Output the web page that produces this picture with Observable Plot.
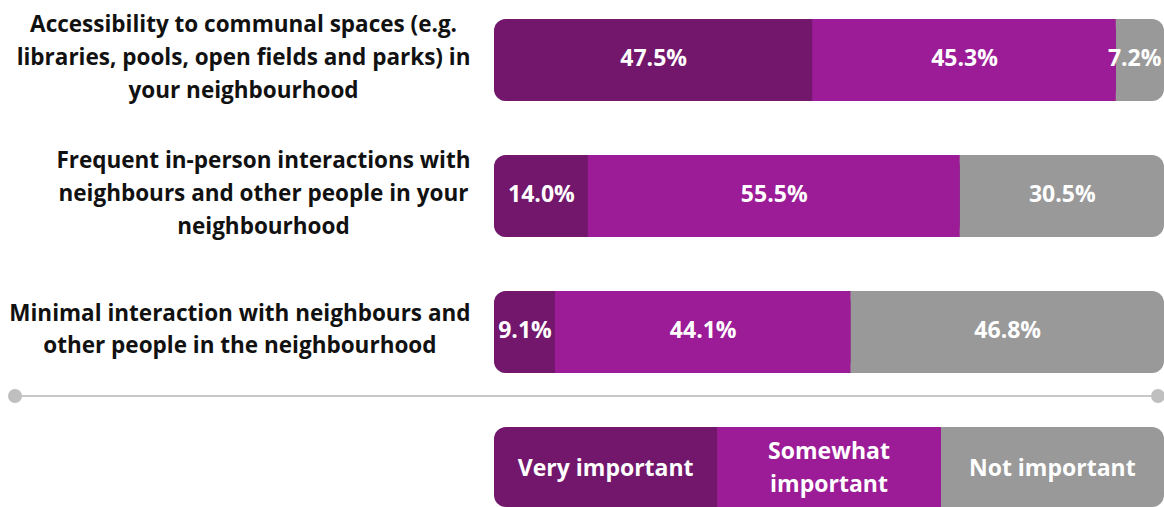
<!DOCTYPE html>
<html>
<head>
<meta charset="utf-8">
<script src="https://cdn.jsdelivr.net/npm/d3@7"></script>
<script src="https://cdn.jsdelivr.net/npm/@observablehq/plot@0.6"></script>
<style>
  html, body { margin: 0; padding: 0; background: #fff; }
  body { width: 1164px; font-family: "Open Sans", Lato, sans-serif; }
  #legend { position: relative; margin-left: 494px; width: 670px; height: 80px; display: flex; border-radius: 12px; overflow: hidden; }
  #legend div { flex: 1; display: flex; align-items: center; justify-content: center; text-align: center; color: #fff; font-weight: bold; font-size: 23px; line-height: 33px; }
</style>
</head>
<body>
<div id="chart"></div>
<div id="sep"></div>
<div id="legend"></div>
<script>
const categories = ["communal", "frequent", "minimal"];
const categoryLabels = [
  "Accessibility to communal spaces (e.g.\nlibraries, pools, open fields and parks) in\nyour neighbourhood",
  "Frequent in-person interactions with\nneighbours and other people in your\nneighbourhood",
  "Minimal interaction with neighbours and\nother people in the neighbourhood"
];
const veryImportant = [47.5, 14.0, 9.1];
const somewhatImportant = [45.3, 55.5, 44.1];
const notImportant = [7.2, 30.5, 46.8];
const seriesNames = ["Very important", "Somewhat\nimportant", "Not important"];
const seriesColors = ["#72176C", "#9C1C97", "#999999"];

const FONT = "'Open Sans', Lato, sans-serif";
const W = 1164, ML = 494, LABEL_GAP = 24, LABEL_SIZE = 22.5, VALUE_SIZE = 23;

// measure text so label lines are centred within a right-aligned block, and values stay inside the bar
const ctx = document.createElement("canvas").getContext("2d");
const measure = (s, size) => { ctx.font = `bold ${size}px "Open Sans"`; return ctx.measureText(s).width; };
const blockWidth = s => Math.max(...s.split("\n").map(l => measure(l, LABEL_SIZE)));
const pxToX = px => px / (W - ML) * 100;
const fmt = d => d.toFixed(1) + "%";

const rows = categories.map((c, i) => {
  const v = veryImportant[i], s = somewhatImportant[i], n = notImportant[i];
  return {
    cat: c,
    label: categoryLabels[i],
    labelX: -pxToX(LABEL_GAP + blockWidth(categoryLabels[i]) / 2),
    v, s, n,
    nX: Math.min(v + s + n / 2, 100 - pxToX(measure(fmt(n), VALUE_SIZE) / 2 + 3))
  };
});

const chart = Plot.plot({
  width: W,
  height: 385,
  marginLeft: ML,
  marginRight: 0,
  marginTop: 18,
  marginBottom: 12,
  style: { fontFamily: FONT, background: "#fff" },
  x: { domain: [0, 100], axis: null },
  y: { domain: categories, paddingInner: 0.4, paddingOuter: 0, axis: null },
  marks: [
    Plot.barX(rows, { y: "cat", x1: 0, x2: 100, fill: seriesColors[2], rx: 12 }),
    Plot.barX(rows, { y: "cat", x1: 0, x2: d => d.v + d.s, fill: seriesColors[0], rx: 12 }),
    Plot.barX(rows, { y: "cat", x1: "v", x2: d => d.v + d.s, fill: seriesColors[1] }),
    Plot.text(rows, { y: "cat", x: d => d.v / 2, dy: -2, text: d => fmt(d.v), fill: "#fff", fontSize: VALUE_SIZE, fontWeight: "bold" }),
    Plot.text(rows, { y: "cat", x: d => d.v + d.s / 2, dy: -2, text: d => fmt(d.s), fill: "#fff", fontSize: VALUE_SIZE, fontWeight: "bold" }),
    Plot.text(rows, { y: "cat", x: "nX", dy: -2, text: d => fmt(d.n), fill: "#fff", fontSize: VALUE_SIZE, fontWeight: "bold" }),
    Plot.text(rows, { y: "cat", x: "labelX", dy: -6, text: "label", textAnchor: "middle", lineHeight: 1.45, fill: "#111", fontSize: LABEL_SIZE, fontWeight: "bold" })
  ]
});
document.getElementById("chart").appendChild(chart);

// separator line with end dots
const sep = d3.select("#sep").append("svg").attr("width", W).attr("height", 42).style("display", "block");
sep.append("line").attr("x1", 15).attr("x2", 1158).attr("y1", 11).attr("y2", 11).attr("stroke", "#C8C8C8").attr("stroke-width", 2);
sep.append("circle").attr("cx", 15).attr("cy", 11).attr("r", 7).attr("fill", "#BFBFBF");
sep.append("circle").attr("cx", 1158).attr("cy", 11).attr("r", 7).attr("fill", "#BFBFBF");

// legend
const legend = d3.select("#legend");
seriesNames.forEach((name, i) => {
  legend.append("div").style("background", seriesColors[i]).html(name.replace("\n", "<br>"));
});
</script>
</body>
</html>
